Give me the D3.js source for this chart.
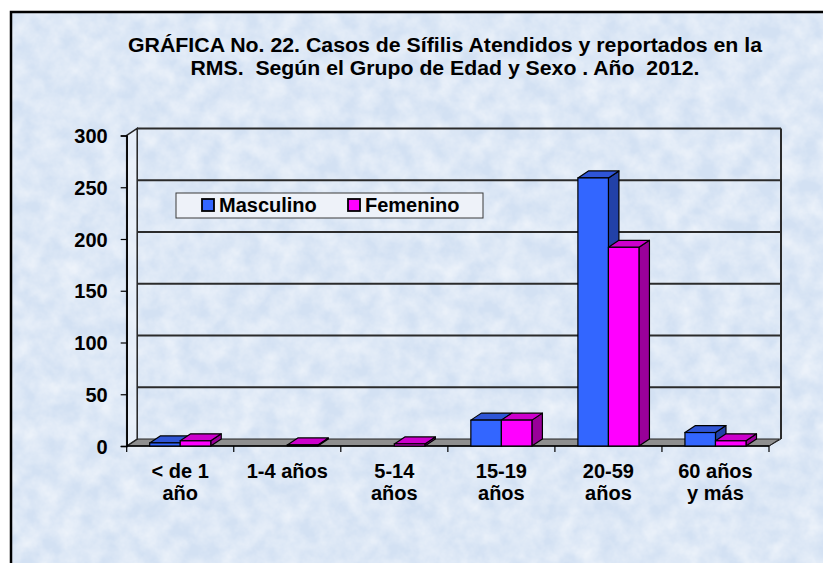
<!DOCTYPE html>
<html>
<head>
<meta charset="utf-8">
<script src="https://cdn.jsdelivr.net/npm/d3@7"></script>
<style>
  html, body { margin: 0; padding: 0; background: #fff; }
  svg { display: block; font-family: "Liberation Sans", Arial, sans-serif; }
  text { font-weight: bold; fill: #000; }
  .title { white-space: pre; }
</style>
</head>
<body>
<div id="chart"></div>
<script>
// data
const categories = ["< de 1 año", "1-4 años", "5-14 años", "15-19 años", "20-59 años", "60 años y más"];
const categoryLines = [["< de 1", "año"], ["1-4 años"], ["5-14", "años"], ["15-19", "años"], ["20-59", "años"], ["60 años", "y más"]];
const seriesNames = ["Masculino", "Femenino"];
const masculino = [3, 0, 0, 25, 259, 13];
const femenino = [5, 1, 2, 25, 192, 5];
const yTicks = [0, 50, 100, 150, 200, 250, 300];
const titleLines = [
  "GRÁFICA No. 22. Casos de Sífilis Atendidos y reportados en la",
  "RMS.  Según el Grupo de Edad y Sexo . Año  2012."
];

const W = 823, H = 563;
const depth = { dx: 10.5, dy: -7 };

const colors = {
  Masculino: { front: "#3366ff", top: "#2f55d6", side: "#2241a8" },
  Femenino: { front: "#ff00ff", top: "#cc00cc", side: "#990099" }
};

const svg = d3.select("#chart").append("svg")
  .attr("width", W)
  .attr("height", H);

// background texture
const defs = svg.append("defs");
const f = defs.append("filter").attr("id", "tex")
  .attr("x", 0).attr("y", 0).attr("width", "100%").attr("height", "100%");
f.append("feTurbulence")
  .attr("type", "fractalNoise")
  .attr("baseFrequency", 0.05)
  .attr("numOctaves", 4)
  .attr("seed", 7)
  .attr("result", "n");
f.append("feColorMatrix")
  .attr("in", "n")
  .attr("type", "matrix")
  .attr("values", "0 0 0 0 1  0 0 0 0 1  0 0 0 0 1  0.9 0 0 0 -0.22");

svg.append("rect")
  .attr("x", 11).attr("y", 12)
  .attr("width", W).attr("height", H)
  .attr("fill", "#d3e1f3");
svg.append("rect")
  .attr("x", 11).attr("y", 12)
  .attr("width", W).attr("height", H)
  .attr("fill", "#fff")
  .attr("filter", "url(#tex)");
svg.append("rect")
  .attr("x", 11).attr("y", 12)
  .attr("width", W + 10).attr("height", H + 10)
  .attr("fill", "none")
  .attr("stroke", "#000")
  .attr("stroke-width", 2.5);

// title
svg.selectAll(".title")
  .data(titleLines)
  .enter().append("text")
  .attr("class", "title")
  .attr("x", 445)
  .attr("y", (d, i) => 52 + i * 23)
  .attr("text-anchor", "middle")
  .attr("font-size", 19.5)
  .attr("textLength", (d, i) => i === 0 ? 634 : 509)
  .attr("lengthAdjust", "spacingAndGlyphs")
  .text(d => d);

// scales
const x0 = d3.scaleBand()
  .domain(categories)
  .range([126.7, 769]);

const x1 = d3.scaleBand()
  .domain(seriesNames)
  .range([23, x0.bandwidth() - 23]);

const y = d3.scaleLinear()
  .domain([0, 300])
  .range([446, 135.5]);

const x0L = 126.7, x0R = 769;
const { dx, dy } = depth;

// floor
svg.append("path")
  .attr("d", `M${x0L},${y(0)} L${x0R},${y(0)} L${x0R + dx},${y(0) + dy} L${x0L + dx},${y(0) + dy} Z`)
  .attr("fill", "#8f8f8f")
  .attr("stroke", "#222")
  .attr("stroke-width", 1);

// side wall
svg.append("path")
  .attr("d", `M${x0L},${y(0)} L${x0L},${y(300)} L${x0L + dx},${y(300) + dy} L${x0L + dx},${y(0) + dy} Z`)
  .attr("fill", "#eef3fa")
  .attr("fill-opacity", 0.6)
  .attr("stroke", "#222")
  .attr("stroke-width", 1.5);

// back wall gridlines
svg.selectAll(".grid")
  .data(yTicks.filter(d => d > 0))
  .enter().append("line")
  .attr("class", "grid")
  .attr("x1", x0L + dx)
  .attr("x2", x0R + dx + 1.5)
  .attr("y1", d => y(d) + dy)
  .attr("y2", d => y(d) + dy)
  .attr("stroke", "#2b2b2b")
  .attr("stroke-width", 2);

// back wall right edge
svg.append("line")
  .attr("x1", x0R + dx + 1.5).attr("x2", x0R + dx + 1.5)
  .attr("y1", y(300) + dy).attr("y2", y(0) + dy)
  .attr("stroke", "#2b2b2b")
  .attr("stroke-width", 2);
svg.append("line")
  .attr("x1", x0R).attr("x2", x0R + dx + 1.5)
  .attr("y1", y(0)).attr("y2", y(0) + dy)
  .attr("stroke", "#222")
  .attr("stroke-width", 1);

// y axis
const yAxis = svg.append("g")
  .attr("transform", `translate(${x0L},0)`)
  .call(d3.axisLeft(y).tickValues(yTicks).tickSize(6).tickPadding(13));
yAxis.select(".domain").attr("stroke", "#000").attr("stroke-width", 1.5);
yAxis.selectAll(".tick line").attr("stroke", "#000").attr("stroke-width", 1.2);
yAxis.selectAll(".tick text")
  .attr("font-size", 20)
  .attr("font-family", "Liberation Sans, Arial, sans-serif")
  .attr("fill", "#000")
  .attr("dy", "0.36em");

// x axis
const xAxis = svg.append("g")
  .attr("transform", `translate(0,${y(0)})`);
xAxis.append("line")
  .attr("x1", x0L).attr("x2", x0R)
  .attr("stroke", "#000").attr("stroke-width", 1.5);
xAxis.selectAll(".xtick")
  .data(categories.concat(["end"]))
  .enter().append("line")
  .attr("class", "xtick")
  .attr("x1", d => d === "end" ? x0R : x0(d))
  .attr("x2", d => d === "end" ? x0R : x0(d))
  .attr("y1", 0).attr("y2", 6)
  .attr("stroke", "#000").attr("stroke-width", 1.2);

const xLabels = xAxis.selectAll(".xlabel")
  .data(categories)
  .enter().append("text")
  .attr("class", "xlabel")
  .attr("x", d => x0(d) + x0.bandwidth() / 2)
  .attr("y", 32)
  .attr("text-anchor", "middle")
  .attr("font-size", 20);
xLabels.selectAll("tspan")
  .data((d, i) => categoryLines[i])
  .enter().append("tspan")
  .attr("x", function() { return d3.select(this.parentNode).attr("x"); })
  .attr("dy", (d, i) => i === 0 ? 0 : 22)
  .text(d => d);

// 3D bars
const barData = [];
categories.forEach((c, i) => {
  barData.push({ cat: c, series: "Masculino", value: masculino[i] });
  barData.push({ cat: c, series: "Femenino", value: femenino[i] });
});

const bars = svg.append("g").selectAll(".bar")
  .data(barData.filter(d => d.value > 0))
  .enter().append("g")
  .attr("class", "bar");

bars.each(function(d) {
  const g = d3.select(this);
  const xl = x0(d.cat) + x1(d.series);
  const xr = xl + x1.bandwidth();
  const yt = y(d.value), yb = y(0);
  const col = colors[d.series];
  // side
  g.append("path")
    .attr("d", `M${xr},${yb} L${xr},${yt} L${xr + dx},${yt + dy} L${xr + dx},${yb + dy} Z`)
    .attr("fill", col.side).attr("stroke", "#000").attr("stroke-width", 1.2)
    .attr("stroke-linejoin", "round");
  // top
  g.append("path")
    .attr("d", `M${xl},${yt} L${xr},${yt} L${xr + dx},${yt + dy} L${xl + dx},${yt + dy} Z`)
    .attr("fill", col.top).attr("stroke", "#000").attr("stroke-width", 1.2)
    .attr("stroke-linejoin", "round");
  // front
  g.append("rect")
    .attr("x", xl).attr("y", yt)
    .attr("width", xr - xl).attr("height", yb - yt)
    .attr("fill", col.front).attr("stroke", "#000").attr("stroke-width", 1.2);
});

// legend
const legend = svg.append("g");
legend.append("rect")
  .attr("x", 176).attr("y", 193)
  .attr("width", 307).attr("height", 25)
  .attr("fill", "#eef2f9")
  .attr("stroke", "#3a3a3a")
  .attr("stroke-width", 1);
const legendX = [202, 348];
const li = legend.selectAll(".li")
  .data(seriesNames)
  .enter().append("g")
  .attr("class", "li")
  .attr("transform", (d, i) => `translate(${legendX[i]},199)`);
li.append("rect")
  .attr("width", 12).attr("height", 12)
  .attr("fill", d => colors[d].front)
  .attr("stroke", "#000").attr("stroke-width", 1.8);
li.append("text")
  .attr("x", 17).attr("y", 13)
  .attr("font-size", 20)
  .text(d => d);
</script>
</body>
</html>
